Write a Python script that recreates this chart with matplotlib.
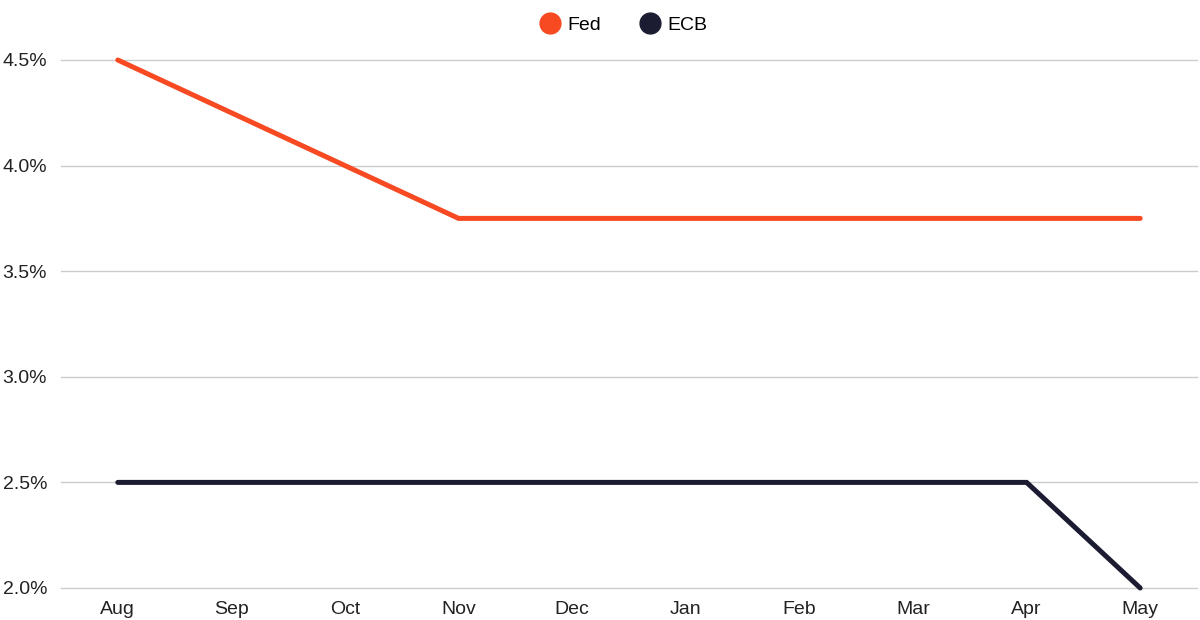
import matplotlib
matplotlib.use("Agg")
import matplotlib.pyplot as plt
from matplotlib.lines import Line2D

months = ["Aug", "Sep", "Oct", "Nov", "Dec", "Jan", "Feb", "Mar", "Apr", "May"]
fed = [4.5, 4.25, 4.0, 3.75, 3.75, 3.75, 3.75, 3.75, 3.75, 3.75]
ecb = [2.5, 2.5, 2.5, 2.5, 2.5, 2.5, 2.5, 2.5, 2.5, 2.0]
yticks = [2.0, 2.5, 3.0, 3.5, 4.0, 4.5]

fed_color = "#F74A22"
ecb_color = "#1B1C31"

plt.rcParams['font.family'] = ['Liberation Sans', 'DejaVu Sans']

fig = plt.figure(figsize=(12, 6.2), dpi=100)
ax = fig.add_axes([61/1200, 32/620, 1136/1200, 528/620])

x = list(range(len(months)))
ax.plot(x, fed, color=fed_color, lw=3.6, solid_capstyle='round', solid_joinstyle='miter', clip_on=False, zorder=3)
ax.plot(x, ecb, color=ecb_color, lw=3.6, solid_capstyle='round', solid_joinstyle='miter', clip_on=False, zorder=3)

ax.set_xlim(-0.5, len(months) - 0.5)
ax.set_ylim(2.0, 4.5)
ax.set_xticks(x)
ax.set_xticklabels(months)
ax.set_yticks(yticks)
ax.set_yticklabels([f"{v:.1f}%" for v in yticks])
ax.tick_params(axis='both', length=0, labelsize=14, colors="#222222")
ax.tick_params(axis='x', pad=9)
ax.tick_params(axis='y', pad=10)
ax.grid(axis='y', color="#CCCCCC", lw=1)
for gl in ax.get_ygridlines():
    gl.set_clip_on(False)
ax.set_axisbelow(True)
for s in ax.spines.values():
    s.set_visible(False)

handles = [Line2D([], [], marker='o', ls='', color=fed_color, markersize=15),
           Line2D([], [], marker='o', ls='', color=ecb_color, markersize=15)]
fig.legend(handles, ["Fed", "ECB"], loc='center', bbox_to_anchor=(0.52, 1 - 25/620),
           ncol=2, frameon=False, fontsize=14, handletextpad=0.4, columnspacing=2.0,
           handlelength=1.0)

fig.savefig("out.png", dpi=100)
